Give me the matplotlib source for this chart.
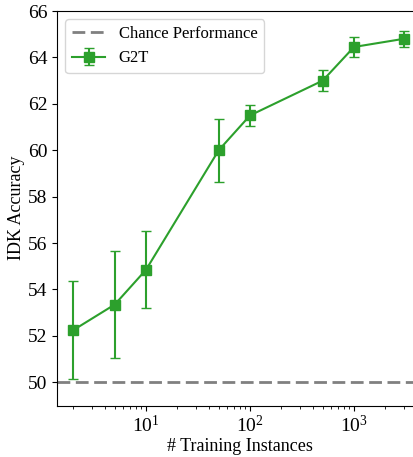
import numpy as np
import matplotlib
matplotlib.use("Agg")
import matplotlib.pyplot as plt

plt.rcParams['font.family'] = ['Liberation Serif', 'DejaVu Serif']
plt.rcParams['mathtext.fontset'] = 'custom'
plt.rcParams['mathtext.rm'] = 'Liberation Serif'
plt.rcParams['mathtext.it'] = 'Liberation Serif:italic'

# data
n_train = [2, 5, 10, 50, 100, 500, 1000, 3000]
acc = [52.25, 53.35, 54.85, 60.0, 61.5, 63.0, 64.45, 64.8]
acc_err = [2.1, 2.3, 1.65, 1.35, 0.45, 0.45, 0.42, 0.35]
chance = 50

fig = plt.figure(figsize=(4.14, 4.57), dpi=100)
ax = fig.add_axes([57 / 414, (457 - 405.5) / 457, (422 - 57) / 414, (405.5 - 11) / 457])

ax.axhline(chance, color='gray', linestyle='--', dashes=(4.6, 2), linewidth=2,
           label='Chance Performance')
ax.errorbar(n_train, acc, yerr=acc_err, color='#2ca02c', marker='s', markersize=6.5,
            capsize=3.5, linewidth=1.5, label='G2T')

ax.set_xscale('log')
ax.set_xlim(1.393, 10 ** (1 + 276 / 104))
ax.set_ylim(49, 66)
ax.set_yticks(range(50, 67, 2))
ax.spines['right'].set_visible(False)
ax.tick_params(labelsize=14)
ax.set_xlabel('# Training Instances', fontsize=13, labelpad=1)
ax.set_ylabel('IDK Accuracy', fontsize=13, labelpad=2)
ax.legend(loc='upper left', fontsize=12)

fig.savefig('out.png', dpi=100)
